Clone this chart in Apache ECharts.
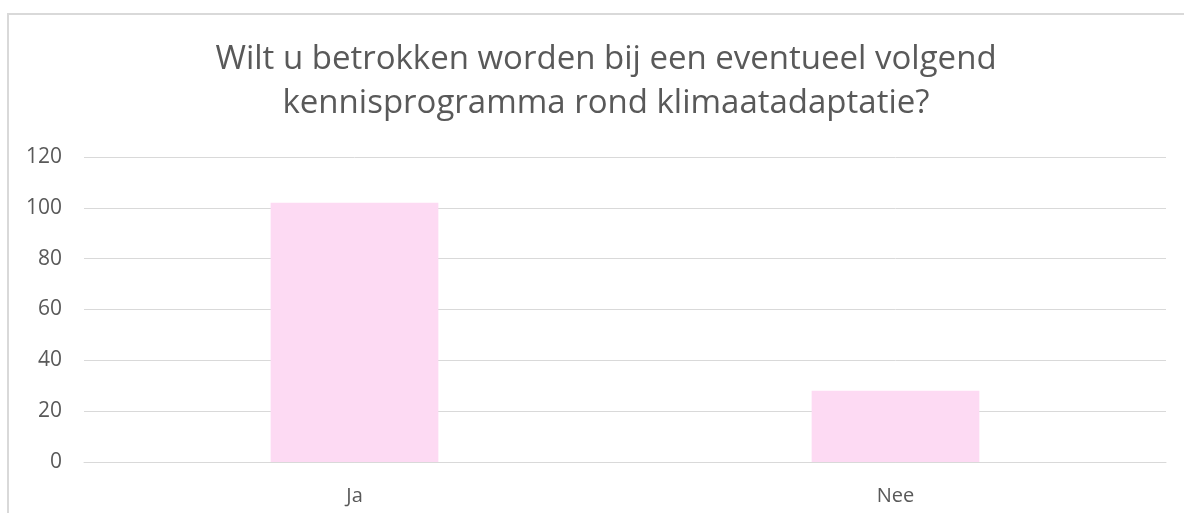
<!DOCTYPE html>
<html>
<head>
<meta charset="utf-8">
<script src="https://cdn.jsdelivr.net/npm/echarts@6/dist/echarts.min.js"></script>
<style>
  html, body { margin: 0; padding: 0; background: #fff; }
  #main { width: 1184px; height: 513px; }
</style>
</head>
<body>
<div id="main"></div>
<script>
    var titleText = 'Wilt u betrokken worden bij een eventueel volgend\nkennisprogramma rond klimaatadaptatie?';
    var categories = ['Ja', 'Nee'];
    var values = [102, 28];
    var yTicks = [0, 20, 40, 60, 80, 100, 120];

    var myChart = echarts.init(document.getElementById('main'));

    var option = {
        animation: false,
        textStyle: { fontFamily: 'Open Sans' },
        title: {
            text: titleText,
            left: 601,
            textAlign: 'center',
            top: 33,
            textStyle: {
                fontFamily: 'Open Sans',
                fontSize: 33,
                fontWeight: 'normal',
                color: '#595959',
                lineHeight: 44
            }
        },
        graphic: [{
            type: 'rect',
            z: -1,
            shape: { x: 8, y: 14, width: 1300, height: 700 },
            style: { fill: 'none', stroke: '#d9d9d9', lineWidth: 2 }
        }],
        grid: {
            left: 84,
            right: 18,
            top: 157,
            bottom: 51,
            containLabel: false
        },
        xAxis: {
            type: 'category',
            data: categories,
            axisTick: { show: false },
            axisLine: { lineStyle: { color: '#d9d9d9', width: 1 } },
            axisLabel: { color: '#595959', fontSize: 20, margin: 24 }
        },
        yAxis: {
            type: 'value',
            min: yTicks[0],
            max: yTicks[yTicks.length - 1],
            interval: 20,
            axisLine: { show: false },
            axisTick: { show: false },
            axisLabel: { color: '#595959', fontSize: 21, margin: 22 },
            splitLine: { lineStyle: { color: '#d9d9d9', width: 1 } }
        },
        series: [{
            type: 'bar',
            data: values,
            barWidth: '31%',
            itemStyle: { color: '#fddaf3' }
        }]
    };

    myChart.setOption(option);

    window.onresize = function () {
        myChart.resize();
    };
</script>
</body>
</html>
